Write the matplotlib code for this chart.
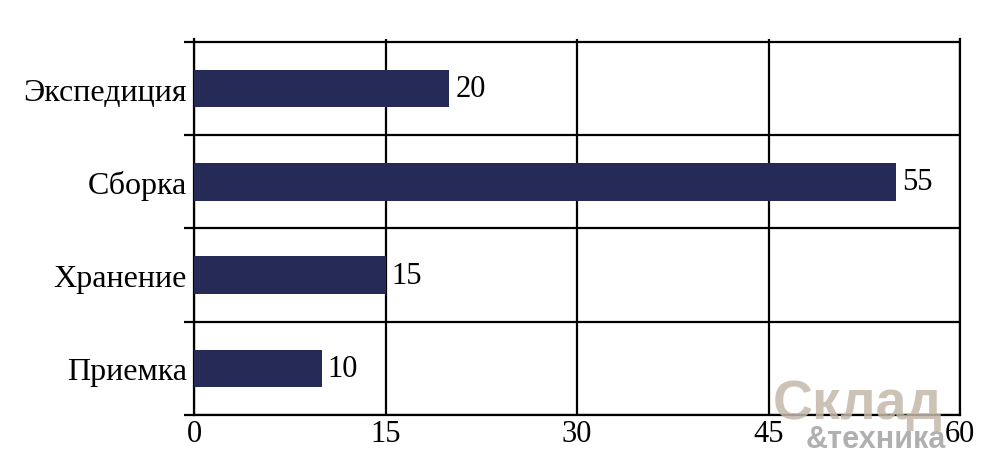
import matplotlib
matplotlib.use("Agg")
import matplotlib.pyplot as plt

categories = ["Приемка", "Хранение", "Сборка", "Экспедиция"]
values = [10, 15, 55, 20]
xticks = [0, 15, 30, 45, 60]

bar_color = "#252a56"
font = "Liberation Serif"

fig = plt.figure(figsize=(9.94, 4.6), dpi=100)
ax = fig.add_axes([194/994, 44/460, 766/994, (416-40)/460])

y = list(range(len(categories)))
ax.barh(y, values, height=0.4, color=bar_color, zorder=3)

for yi, v in zip(y, values):
    ax.annotate(str(v), xy=(v, yi), xytext=(6, 0), textcoords="offset pixels",
                ha="left", va="center", fontsize=22, family=font, zorder=4)

ax.set_xlim(0, 60)
ax.set_ylim(-0.5, len(categories) - 0.5 + 0.032)

ax.set_xticks(xticks)
ax.set_xticklabels([str(t) for t in xticks], fontsize=22, family=font)
ax.tick_params(axis="x", length=0, pad=3)

bounds = [i - 0.5 for i in range(len(categories) + 1)]
ax.set_yticks(bounds)
ax.set_yticklabels([])
ax.tick_params(axis="y", which="major", length=7.2, width=1.6, color="black")
ax.set_yticks(y, minor=True)
ax.set_yticklabels(categories, minor=True, fontsize=23, family=font)
ax.tick_params(axis="y", which="minor", length=0, pad=5)

ax.grid(axis="y", which="major", color="black", linewidth=1.6, zorder=1)
ax.grid(axis="x", which="major", color="black", linewidth=1.6, zorder=1)

ax.spines["top"].set_visible(False)
for s in ["left", "right", "bottom"]:
    ax.spines[s].set_linewidth(1.6)
    ax.spines[s].set_zorder(2)

# watermark
fig.text(773/994, 1 - 419/460, "Склад", fontsize=40, fontweight="bold",
         family="Liberation Sans", color="#c4b9aa", alpha=0.85, ha="left", va="baseline", zorder=5)
fig.text(806/994, 1 - 448/460, "&техника", fontsize=22, fontweight="bold",
         family="Liberation Sans", color="#a3a3a3", alpha=0.85, ha="left", va="baseline", zorder=5)

fig.savefig("out.png", dpi=100)
